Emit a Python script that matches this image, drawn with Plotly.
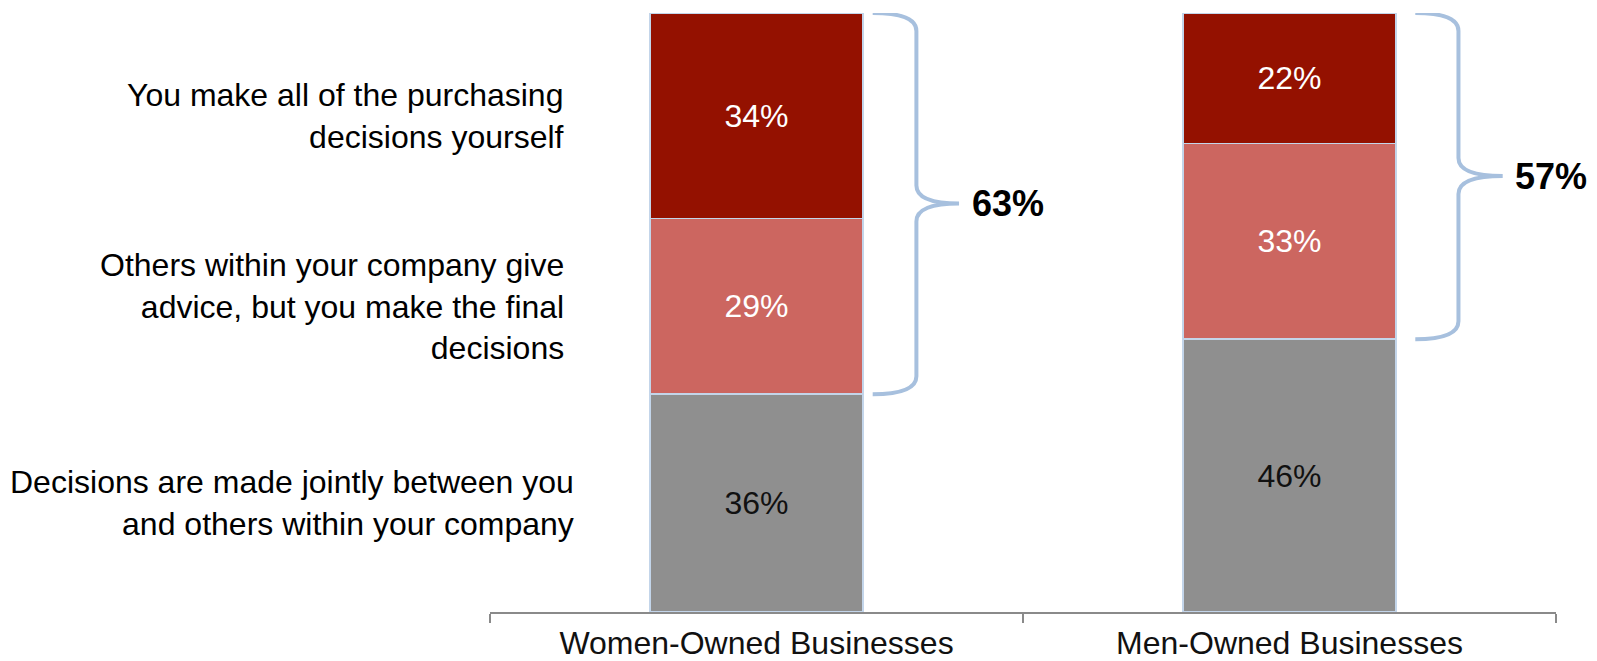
import plotly.graph_objects as go

# Survey data: share of respondents by purchasing-decision style
categories = ["Women-Owned Businesses", "Men-Owned Businesses"]
series_names = [
    "Decisions are made jointly between you<br>and others within your company",
    "Others within your company give<br>advice, but you make the final<br>decisions",
    "You make all of the purchasing<br>decisions yourself",
]
joint = [36, 46]
advice = [29, 33]
self_made = [34, 22]
combined_totals = [63, 57]  # advice + self-made, shown next to the braces

series_values = [joint, advice, self_made]
fill_colors = ["#8f8f8f", "#cc6660", "#941100"]
text_colors = ["#111111", "#ffffff", "#ffffff"]
outline = "#c3d5ea"
brace_color = "#a7c0de"
FONT = "Liberation Sans, Arial, sans-serif"
BAR_WIDTH = 0.4

fig = go.Figure()
for name, vals, col, tcol in zip(series_names, series_values, fill_colors, text_colors):
    fig.add_trace(go.Bar(
        x=categories,
        y=vals,
        name=name,
        width=BAR_WIDTH,
        marker=dict(color=col, line=dict(color=outline, width=1.5)),
        text=[f"{v}%" for v in vals],
        textposition="inside",
        insidetextanchor="middle",
        textangle=0,
        textfont=dict(family=FONT, size=32, color=tcol),
        hoverinfo="skip",
    ))

shapes = []
annotations = []

# Curly braces spanning the two "you decide" segments of each bar
brace_end = [0.218, 0.236]
brace_spine = [0.300, 0.317]
brace_tip = [0.380, 0.400]
for i, cat in enumerate(categories):
    total = sum(v[i] for v in series_values)
    low = joint[i] / total * 100
    top = 100.0
    mid = (low + top) / 2
    a = i + brace_end[i]
    xv = i + brace_spine[i]
    xt = i + brace_tip[i]
    d = 3.0
    path = (
        f"M {a},{top} Q {xv},{top} {xv},{top - d} "
        f"L {xv},{mid + d} Q {xv},{mid} {xt},{mid} "
        f"Q {xv},{mid} {xv},{mid - d} "
        f"L {xv},{low + d} Q {xv},{low} {a},{low}"
    )
    shapes.append(dict(type="path", xref="x", yref="y", path=path,
                       line=dict(color=brace_color, width=4), layer="above"))
    annotations.append(dict(
        x=xt + 0.02, y=mid, xref="x", yref="y", xanchor="left", yanchor="middle",
        text=f"<b>{combined_totals[i]}%</b>", showarrow=False,
        font=dict(family=FONT, size=36, color="#000000"),
    ))

# Row labels on the left, aligned with the first bar's segments
first_total = sum(v[0] for v in series_values)
cum = 0
label_x = [-0.338, -0.357, -0.358]
for k, (name, vals) in enumerate(zip(series_names, series_values)):
    centre = (cum + vals[0] / 2) / first_total * 100
    cum += vals[0]
    annotations.append(dict(
        x=label_x[k], y=centre, xref="x", yref="y", xanchor="right", yanchor="middle",
        align="right", text=name, showarrow=False,
        font=dict(family=FONT, size=32, color="#000000"),
    ))

fig.update_layout(
    width=1597,
    height=661,
    barmode="stack",
    barnorm="percent",
    showlegend=False,
    plot_bgcolor="#ffffff",
    paper_bgcolor="#ffffff",
    margin=dict(l=490, r=41, t=13, b=49, autoexpand=False),
    shapes=shapes,
    annotations=annotations,
    xaxis=dict(
        type="category",
        tickson="boundaries",
        ticks="outside",
        ticklen=9,
        tickwidth=1.5,
        tickcolor="#8a8a8a",
        showline=True,
        linecolor="#8a8a8a",
        linewidth=1.5,
        showgrid=False,
        automargin=False,
        tickfont=dict(family=FONT, size=32, color="#111111"),
        ticklabelstandoff=2,
        range=[-0.5, 1.5],
    ),
    yaxis=dict(visible=False, range=[0, 100], showgrid=False, zeroline=False,
               automargin=False),
)

fig.write_html("out.html")
